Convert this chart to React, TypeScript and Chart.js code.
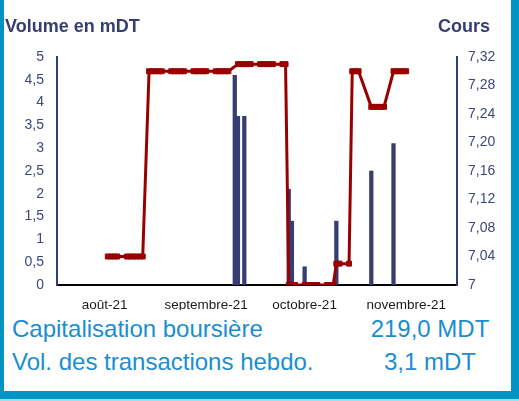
import React, { useEffect, useRef } from 'react';
import { Chart, registerables } from 'chart.js';

Chart.register(...registerables);

const AXIS_START = '2021-08-01';
const AXIS_END = '2021-12-05';

const priceDates = [
  '2021-08-17', '2021-08-18', '2021-08-19', '2021-08-20', '2021-08-23', '2021-08-24', '2021-08-25', '2021-08-26', '2021-08-27', '2021-08-28',
  '2021-08-30', '2021-08-31', '2021-09-01', '2021-09-02', '2021-09-03',
  '2021-09-06', '2021-09-07', '2021-09-08', '2021-09-09', '2021-09-10',
  '2021-09-13', '2021-09-14', '2021-09-15', '2021-09-16', '2021-09-17',
  '2021-09-20', '2021-09-21', '2021-09-22', '2021-09-23', '2021-09-24',
  '2021-09-27', '2021-09-28', '2021-09-29', '2021-09-30', '2021-10-01',
  '2021-10-04', '2021-10-05', '2021-10-06', '2021-10-07', '2021-10-08',
  '2021-10-11', '2021-10-12',
  '2021-10-13', '2021-10-14', '2021-10-15',
  '2021-10-18', '2021-10-19', '2021-10-20', '2021-10-21', '2021-10-22',
  '2021-10-25', '2021-10-26', '2021-10-27',
  '2021-10-28', '2021-10-29', '2021-11-01',
  '2021-11-02', '2021-11-03', '2021-11-04',
  '2021-11-08', '2021-11-09', '2021-11-10', '2021-11-11', '2021-11-12',
  '2021-11-15', '2021-11-16', '2021-11-17', '2021-11-18', '2021-11-19',
];
const priceValues = [
  7.04, 7.04, 7.04, 7.04, 7.04, 7.04, 7.04, 7.04, 7.04, 7.04,
  7.3, 7.3, 7.3, 7.3, 7.3,
  7.3, 7.3, 7.3, 7.3, 7.3,
  7.3, 7.3, 7.3, 7.3, 7.3,
  7.3, 7.3, 7.3, 7.3, 7.3,
  7.31, 7.31, 7.31, 7.31, 7.31,
  7.31, 7.31, 7.31, 7.31, 7.31,
  7.31, 7.31,
  7.0, 7.0, 7.0,
  7.0, 7.0, 7.0, 7.0, 7.0,
  7.0, 7.0, 7.0,
  7.03, 7.03, 7.03,
  7.3, 7.3, 7.3,
  7.25, 7.25, 7.25, 7.25, 7.25,
  7.3, 7.3, 7.3, 7.3, 7.3,
];

const volumeDates = ['2021-09-26', '2021-09-27', '2021-09-29', '2021-10-13', '2021-10-14', '2021-10-18', '2021-10-28', '2021-11-08', '2021-11-15'];
const volumeValues = [4.6, 3.7, 3.7, 2.1, 1.4, 0.4, 1.4, 2.5, 3.1];

const monthTickDates = ['2021-08-16', '2021-09-17', '2021-10-18', '2021-11-19'];
const monthTickLabels = ['août-21', 'septembre-21', 'octobre-21', 'novembre-21'];

const volumeTicks = [0, 0.5, 1, 1.5, 2, 2.5, 3, 3.5, 4, 4.5, 5];
const volumeTickLabels = ['0', '0,5', '1', '1,5', '2', '2,5', '3', '3,5', '4', '4,5', '5'];

const priceTicks = [7, 7.04, 7.08, 7.12, 7.16, 7.2, 7.24, 7.28, 7.32];
const priceTickLabels = ['7', '7,04', '7,08', '7,12', '7,16', '7,20', '7,24', '7,28', '7,32'];

const leftTitle = 'Volume en mDT';
const rightTitle = 'Cours';
const infoLabels = ['Capitalisation boursière', 'Vol. des transactions hebdo.'];
const infoValues = ['219,0 MDT', '3,1 mDT'];

const FONT = "'Liberation Sans', Arial, Helvetica, sans-serif";
const NAVY = '#363d70';
const RED = '#990000';
const BLUE_TEXT = '#1b8ecf';
const FRAME = '#0094c4';

const dayIndex = (s: string) => Math.round((Date.parse(s) - Date.parse(AXIS_START)) / 86400000);

export default function App() {
  const canvasRef = useRef<HTMLCanvasElement | null>(null);

  useEffect(() => {
    const canvas = canvasRef.current;
    if (!canvas) return;
    const chart = new Chart(canvas, {
      type: 'bar',
      data: {
        datasets: [
          {
            type: 'line',
            label: rightTitle,
            data: priceDates.map((d, i) => ({ x: dayIndex(d), y: priceValues[i] })),
            yAxisID: 'y1',
            borderColor: RED,
            backgroundColor: RED,
            borderWidth: 3,
            pointStyle: 'rect',
            pointRadius: 3.5,
            pointBorderWidth: 1,
            pointBackgroundColor: RED,
            pointBorderColor: RED,
            tension: 0,
            order: 0,
          } as any,
          {
            type: 'bar',
            label: leftTitle,
            data: volumeDates.map((d, i) => ({ x: dayIndex(d), y: volumeValues[i] })),
            yAxisID: 'y',
            backgroundColor: NAVY,
            barThickness: 3.6,
            order: 1,
          } as any,
        ],
      },
      options: {
        animation: false,
        responsive: false,
        maintainAspectRatio: false,
        layout: { padding: { top: 57, left: 0, right: 0, bottom: 0 } },
        plugins: { legend: { display: false }, tooltip: { enabled: false }, title: { display: false } },
        scales: {
          x: {
            type: 'linear',
            min: 0,
            max: dayIndex(AXIS_END),
            offset: false,
            grid: { display: false },
            border: { display: true, color: '#000000', width: 2 },
            afterBuildTicks: (s: any) => {
              s.ticks = monthTickDates.map((d) => ({ value: dayIndex(d) }));
            },
            afterFit: (s: any) => {
              s.height = 25;
            },
            ticks: {
              autoSkip: false,
              maxRotation: 0,
              minRotation: 0,
              padding: 4,
              color: '#1a1a1a',
              font: { family: FONT, size: 13.5 },
              callback: (_v: any, i: number) => monthTickLabels[i],
            },
          } as any,
          y: {
            type: 'linear',
            position: 'left',
            min: 0,
            max: 5,
            grid: { display: false },
            border: { display: true, color: NAVY, width: 2 },
            afterBuildTicks: (s: any) => {
              s.ticks = volumeTicks.map((v) => ({ value: v }));
            },
            afterFit: (s: any) => {
              s.width = 57;
            },
            ticks: {
              padding: 5,
              color: '#3f4679',
              font: { family: FONT, size: 14 },
              callback: (_v: any, i: number) => volumeTickLabels[i],
            },
          } as any,
          y1: {
            type: 'linear',
            position: 'right',
            min: 7,
            max: 7.32,
            grid: { display: false },
            border: { display: true, color: NAVY, width: 2 },
            afterBuildTicks: (s: any) => {
              s.ticks = priceTicks.map((v) => ({ value: v }));
            },
            afterFit: (s: any) => {
              s.width = 62;
            },
            ticks: {
              padding: 3,
              color: '#3f4679',
              font: { family: FONT, size: 14 },
              callback: (_v: any, i: number) => priceTickLabels[i],
            },
          } as any,
        },
      },
    });
    return () => chart.destroy();
  }, []);

  const abs = (extra: React.CSSProperties): React.CSSProperties => ({ position: 'absolute', whiteSpace: 'nowrap', ...extra });

  return (
    <div style={{ position: 'fixed', left: 0, top: 0, width: 519, height: 401, background: '#ffffff', overflow: 'hidden', fontFamily: FONT }}>
      <div
        style={abs({
          left: 0,
          top: 0,
          width: 519,
          height: 399,
          boxSizing: 'border-box',
          borderLeft: `4px solid ${FRAME}`,
          borderRight: `8px solid ${FRAME}`,
          borderBottom: `8px solid ${FRAME}`,
        })}
      />
      <div style={abs({ left: 0, top: 399, width: 519, height: 2, background: '#a9d9ea' })} />
      <canvas ref={canvasRef} width={519} height={310} style={{ position: 'absolute', left: 0, top: 0, width: 519, height: 310, display: 'block' }} />
      <div style={abs({ left: 5, top: 17, fontSize: 18, fontWeight: 'bold', lineHeight: 1, color: NAVY })}>{leftTitle}</div>
      <div style={abs({ right: 29, top: 17, fontSize: 18, fontWeight: 'bold', lineHeight: 1, color: NAVY, textAlign: 'right' })}>{rightTitle}</div>
      <div style={abs({ left: 12, top: 317, fontSize: 24, lineHeight: 1, color: BLUE_TEXT })}>{infoLabels[0]}</div>
      <div style={abs({ left: 12, top: 350, fontSize: 24, lineHeight: 1, color: BLUE_TEXT })}>{infoLabels[1]}</div>
      <div style={abs({ left: 360, width: 140, top: 317, fontSize: 24, lineHeight: 1, color: BLUE_TEXT, textAlign: 'center' })}>{infoValues[0]}</div>
      <div style={abs({ left: 360, width: 140, top: 350, fontSize: 24, lineHeight: 1, color: BLUE_TEXT, textAlign: 'center' })}>{infoValues[1]}</div>
    </div>
  );
}
